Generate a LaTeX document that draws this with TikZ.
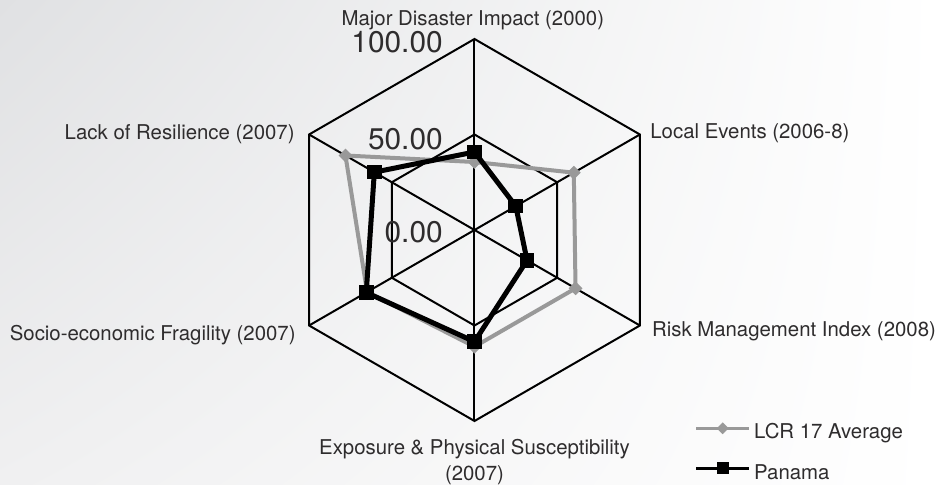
\documentclass[tikz,border=0pt]{standalone}
\usepackage{fontspec}
\setmainfont{TeX Gyre Heros}
\usetikzlibrary{shapes.geometric,shadings}

\definecolor{txtgray}{HTML}{2E2C2D}
\definecolor{lcrgray}{HTML}{999999}
\definecolor{bgdark}{HTML}{E0E1E3}
\definecolor{bgmid}{HTML}{F0F0F1}

\tikzset{
    grid/.style={line width=0.06cm, black},
    axislabel/.style={font=\fontsize{17.4}{20}\selectfont, text=txtgray, inner sep=0pt},
    scalelabel/.style={font=\fontsize{25.5}{30}\selectfont, text=txtgray, inner sep=0pt, anchor=east},
    lcrline/.style={line width=0.12cm, lcrgray, line join=round},
    panline/.style={line width=0.15cm, black, line join=round},
    lcrmark/.style={diamond, fill=lcrgray, inner sep=0pt, minimum size=0.42cm},
    panmark/.style={rectangle, fill=black, inner sep=0pt, minimum size=0.44cm}
}

\begin{document}
\begin{tikzpicture}
    % background
    \shade [upper left=bgdark, upper right=white, lower left=bgmid, lower right=white]
        (-14.235, -7.65) rectangle (13.845, 6.9);
    \useasboundingbox (-14.235, -7.65) rectangle (13.845, 6.9);

    % grid
    \draw [grid] (90:5.73) -- (30:5.73) -- (-30:5.73) -- (-90:5.73) -- (210:5.73) -- (150:5.73) -- cycle;
    \draw [grid] (90:2.865) -- (30:2.865) -- (-30:2.865) -- (-90:2.865) -- (210:2.865) -- (150:2.865) -- cycle;
    \draw [grid] (90:5.73) -- (-90:5.73);
    \draw [grid] (30:5.73) -- (210:5.73);
    \draw [grid] (150:5.73) -- (-30:5.73);

    % scale
    \path (-0.945,  5.65) node [scalelabel] (s100) {100.00};
    \path (-0.945,  2.73) node [scalelabel] (s50) {50.00};
    \path (-0.945, -0.06) node [scalelabel] (s0) {0.00};

    % axis labels
    \path (-0.05,  6.12) node [axislabel, anchor=base] (major) {Major Disaster Impact (2000)};
    \path ( 5.27,  2.73) node [axislabel, anchor=base west] (local) {Local Events (2006-8)};
    \path ( 5.32, -3.21) node [axislabel, anchor=base west] (risk) {Risk Management Index (2008)};
    \path ( 0.00, -6.72) node [axislabel, anchor=base] (expo) {Exposure \& Physical Susceptibility};
    \path ( 0.00, -7.50) node [axislabel, anchor=base] (expoyear) {(2007)};
    \path (-5.36, -3.30) node [axislabel, anchor=base east] (socio) {Socio-economic Fragility (2007)};
    \path (-5.39,  2.70) node [axislabel, anchor=base east] (lack) {Lack of Resilience (2007)};

    % LCR 17 average
    \path ( 90:2.04) node [lcrmark] (avg1) {};
    \path ( 30:3.44) node [lcrmark] (avg2) {};
    \path (-30:3.50) node [lcrmark] (avg3) {};
    \path (-90:3.50) node [lcrmark] (avg4) {};
    \path (210:3.72) node [lcrmark] (avg5) {};
    \path (150:4.47) node [lcrmark] (avg6) {};
    \draw [lcrline] (avg1.center) -- (avg2.center) -- (avg3.center) -- (avg4.center)
        -- (avg5.center) -- (avg6.center) -- cycle;

    % Panama
    \path ( 90:2.34) node [panmark] (pan1) {};
    \path ( 30:1.43) node [panmark] (pan2) {};
    \path (-30:1.82) node [panmark] (pan3) {};
    \path (-90:3.35) node [panmark] (pan4) {};
    \path (210:3.75) node [panmark] (pan5) {};
    \path (150:3.47) node [panmark] (pan6) {};
    \draw [panline] (pan1.center) -- (pan2.center) -- (pan3.center) -- (pan4.center)
        -- (pan5.center) -- (pan6.center) -- cycle;

    % legend
    \coordinate (leglcra) at (6.645, -5.95);
    \coordinate (leglcrb) at (8.244, -5.95);
    \draw [lcrline, line width=0.1cm] (leglcra) -- (leglcrb);
    \path (7.446, -5.95) node [lcrmark, minimum size=0.36cm] (leglcr) {};
    \path (8.385, -6.09) node [axislabel, anchor=west] (leglcrtxt) {LCR 17 Average};
    \coordinate (legpana) at (6.645, -7.15);
    \coordinate (legpanb) at (8.244, -7.15);
    \draw [panline, line width=0.11cm] (legpana) -- (legpanb);
    \path (7.446, -7.15) node [panmark, minimum size=0.36cm] (legpan) {};
    \path (8.385, -7.26) node [axislabel, anchor=west] (legpantxt) {Panama};
\end{tikzpicture}
\end{document}
